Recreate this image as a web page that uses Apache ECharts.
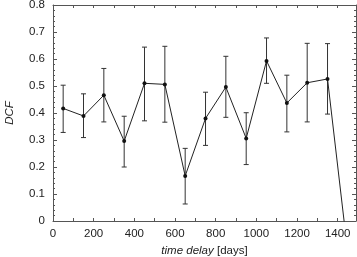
<!DOCTYPE html>
<html>
<head>
<meta charset="utf-8">
<script src="https://cdn.jsdelivr.net/npm/echarts@6/dist/echarts.min.js"></script>
<style>html,body{margin:0;padding:0;background:#fff}#c{width:357px;height:257px}</style>
</head>
<body>
<div id="c"></div>
<script>
var days = [50,150,250,350,450,550,650,750,850,950,1050,1150,1250,1350,1450];
var dcf = [0.417,0.389,0.466,0.296,0.510,0.506,0.167,0.380,0.496,0.306,0.593,0.437,0.512,0.526,-0.12];
var errUpper = [0.503,0.471,0.565,0.388,0.644,0.647,0.269,0.477,0.610,0.401,0.678,0.540,0.658,0.657];
var errLower = [0.328,0.309,0.367,0.200,0.371,0.366,0.063,0.280,0.384,0.209,0.510,0.330,0.367,0.396];
var xTicks = [0,200,400,600,800,1000,1200,1400];
var yTicks = [0,0.1,0.2,0.3,0.4,0.5,0.6,0.7,0.8];

var axisCol = '#555';
var font = 'Liberation Sans, Arial, sans-serif';
var chart = echarts.init(document.getElementById('c'), null, {renderer:'canvas'});

var lineData = days.map(function(d,i){return [d, dcf[i]];});
var errData = errUpper.map(function(u,i){return [days[i], errLower[i], u];});

chart.setOption({
  animation:false,
  grid:{left:53, top:5, right:1, bottom:36, containLabel:false, outerBoundsMode:'none'},
  xAxis:[{
    type:'value', min:0, max:1490, interval:100, position:'bottom',
    axisLine:{show:true, onZero:false, lineStyle:{color:axisCol, width:1}},
    axisTick:{show:true, inside:true, length:3, lineStyle:{color:axisCol}},
    splitLine:{show:false},
    axisLabel:{color:'#222', fontSize:11.5, fontFamily:font, margin:7, showMaxLabel:false,
      formatter:function(v){return xTicks.indexOf(v)>=0 ? String(v) : '';}},
    name:'{i|time delay} [days]', nameLocation:'middle', nameGap:24,
    nameTextStyle:{color:'#222', fontSize:11.5, fontFamily:font,
      rich:{i:{fontStyle:'italic', fontSize:11.5, fontFamily:font, color:'#222'}}}
  },{
    type:'value', min:0, max:1490, interval:100, position:'top',
    axisLine:{show:true, onZero:false, lineStyle:{color:axisCol, width:1}},
    axisTick:{show:true, inside:true, length:3, lineStyle:{color:axisCol}},
    axisLabel:{show:false}, splitLine:{show:false}
  }],
  yAxis:[{
    type:'value', min:0, max:0.8, interval:0.1, position:'left',
    axisLine:{show:true, onZero:false, lineStyle:{color:axisCol, width:1}},
    axisTick:{show:true, inside:true, length:4, lineStyle:{color:axisCol}},
    minorTick:{show:true, splitNumber:5, length:2, lineStyle:{color:axisCol}},
    splitLine:{show:false},
    axisLabel:{color:'#222', fontSize:11.5, fontFamily:font, margin:8,
      formatter:function(v){var r=Math.round(v*10)/10; return r===0?'0':r.toFixed(1);}},
    name:'DCF', nameLocation:'middle', nameGap:37,
    nameTextStyle:{color:'#222', fontSize:11.5, fontFamily:font, fontStyle:'italic'}
  },{
    type:'value', min:0, max:0.8, interval:0.1, position:'right',
    axisLine:{show:true, onZero:false, lineStyle:{color:axisCol, width:1}},
    axisTick:{show:true, inside:true, length:4, lineStyle:{color:axisCol}},
    minorTick:{show:true, splitNumber:5, length:2, lineStyle:{color:axisCol}},
    axisLabel:{show:false}, splitLine:{show:false}
  }],
  series:[{
    type:'custom',
    data:errData,
    clip:true,
    renderItem:function(params, api){
      var x = api.value(0);
      var lo = api.coord([x, api.value(1)]);
      var hi = api.coord([x, api.value(2)]);
      var w = 2.5;
      var st = {stroke:'#333', lineWidth:1};
      return {type:'group', children:[
        {type:'line', shape:{x1:lo[0], y1:lo[1], x2:hi[0], y2:hi[1]}, style:st},
        {type:'line', shape:{x1:lo[0]-w, y1:lo[1], x2:lo[0]+w, y2:lo[1]}, style:st},
        {type:'line', shape:{x1:hi[0]-w, y1:hi[1], x2:hi[0]+w, y2:hi[1]}, style:st}
      ]};
    },
    z:2
  },{
    type:'line',
    data:lineData,
    clip:true,
    symbol:'circle', symbolSize:4,
    itemStyle:{color:'#111'},
    lineStyle:{color:'#222', width:1},
    z:3
  }]
});
</script>
</body>
</html>
